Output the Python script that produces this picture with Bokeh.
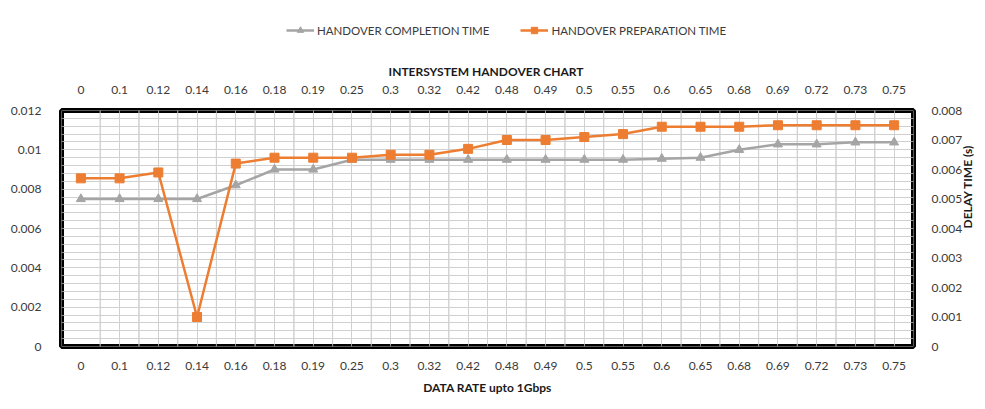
import math
from bokeh.plotting import figure
from bokeh.layouts import column
from bokeh.models import (FactorRange, Range1d, LinearAxis, CategoricalAxis, FixedTicker,
                          SingleIntervalTicker, CustomJSTickFormatter, Legend, LegendItem,
                          Title, BoxAnnotation)
from bokeh.embed import file_html
from bokeh.resources import INLINE

# ---------------- data ----------------
data_rate = ["0", "0.1", "0.12", "0.14", "0.16", "0.18", "0.19", "0.25", "0.3", "0.32", "0.42",
             "0.48", "0.49", "0.5", "0.55", "0.6", "0.65", "0.68", "0.69", "0.72", "0.73", "0.75"]
# left axis (s)
completion_time = [0.0075, 0.0075, 0.0075, 0.0075, 0.0082, 0.0090, 0.0090, 0.0095, 0.0095, 0.0095,
                   0.0095, 0.0095, 0.0095, 0.0095, 0.0095, 0.00955, 0.0096, 0.0100, 0.01028,
                   0.01028, 0.01038, 0.01038]
# right axis (s)
preparation_time = [0.0057, 0.0057, 0.0059, 0.0010, 0.0062, 0.0064, 0.0064, 0.0064, 0.0065, 0.0065,
                    0.0067, 0.0070, 0.0070, 0.0071, 0.0072, 0.00745, 0.00745, 0.00745, 0.0075,
                    0.0075, 0.0075, 0.0075]
left_ticks = [0, 0.002, 0.004, 0.006, 0.008, 0.010, 0.012]
right_ticks = [0, 0.001, 0.002, 0.003, 0.004, 0.005, 0.006, 0.007, 0.008]
series_names = ["HANDOVER COMPLETION TIME", "HANDOVER PREPARATION TIME"]

FONT = "Lato"
GRID = "#d0d0d0"
TXT = "#3a3a3a"
GRAY = "#a5a5a5"
ORANGE = "#ed7d31"

# ---------------- legend strip ----------------
# the series are drawn here too but fall outside this strip's visible range;
# only the legend entries show.
lg = figure(width=985, height=50, output_backend="svg", toolbar_location=None,
            x_axis_type=None, y_axis_type=None, min_border=0,
            x_range=FactorRange(*data_rate), y_range=Range1d(1, 2))
lg.outline_line_color = None
lg.grid.visible = False
lr1 = lg.line(data_rate, completion_time, line_color=GRAY, line_width=2.5)
lm1 = lg.scatter(data_rate, completion_time, marker="triangle", size=9,
                 fill_color=GRAY, line_color=GRAY)
lr2 = lg.line(data_rate, preparation_time, line_color=ORANGE, line_width=2.5)
lm2 = lg.scatter(data_rate, preparation_time, marker="square", size=9,
                 fill_color=ORANGE, line_color=ORANGE)
legend = Legend(items=[LegendItem(label=series_names[0], renderers=[lr1, lm1]),
                       LegendItem(label=series_names[1], renderers=[lr2, lm2])],
                orientation="horizontal", location=(225, 12),
                border_line_color=None, background_fill_alpha=0,
                padding=0, margin=0, spacing=31, glyph_width=28, glyph_height=16,
                label_height=16, label_standoff=3,
                label_text_font=FONT, label_text_font_size="11.5px", label_text_color=TXT)
lg.add_layout(legend)

# ---------------- main chart ----------------
p = figure(width=985, height=359,
           x_range=FactorRange(*data_rate), y_range=Range1d(0, 0.012),
           output_backend="svg", toolbar_location=None,
           min_border_left=61, min_border_right=68, min_border_top=60, min_border_bottom=63)
p.title = None
p.extra_y_ranges = {"right": Range1d(0, 0.008)}

fmt = "return String(parseFloat(tick.toFixed(4)));"

p.outline_line_color = "black"
p.outline_line_width = 5
p.background_fill_color = "white"

p.xgrid.grid_line_color = GRID
p.ygrid.ticker = SingleIntervalTicker(interval=0.0004)
p.ygrid.grid_line_color = GRID

# category boundary lines (horizontal edges fall outside the frame and are clipped)
p.vbar(x=data_rate, bottom=-0.001, top=0.013, width=1.0, fill_alpha=0,
       line_color=GRID, line_width=1)

def style_axis(ax):
    ax.axis_line_color = None
    ax.major_tick_line_color = None
    ax.minor_tick_line_color = None
    ax.major_label_text_font = FONT
    ax.major_label_text_font_size = "12px"
    ax.major_label_text_color = TXT
    ax.axis_label_text_font = FONT
    ax.axis_label_text_font_size = "12px"
    ax.axis_label_text_font_style = "bold"
    ax.axis_label_text_color = "#1a1a1a"

xb = p.xaxis[0]
style_axis(xb)
xb.axis_label = "DATA RATE upto 1Gbps"
xb.major_label_standoff = 9
xb.axis_label_standoff = 7

yl = p.yaxis[0]
style_axis(yl)
yl.ticker = FixedTicker(ticks=left_ticks)
yl.formatter = CustomJSTickFormatter(code=fmt)
yl.major_label_standoff = 14

yr = LinearAxis(y_range_name="right", ticker=FixedTicker(ticks=right_ticks),
                formatter=CustomJSTickFormatter(code=fmt), axis_label="DELAY TIME  (s)")
style_axis(yr)
yr.major_label_standoff = 12
yr.axis_label_standoff = 2
yr.axis_label_orientation = math.pi / 2
p.add_layout(yr, "right")

xt = CategoricalAxis()
style_axis(xt)
xt.major_label_standoff = 11
p.add_layout(xt, "above")

title = Title(text="INTERSYSTEM HANDOVER  CHART", align="center", text_font=FONT,
              text_font_size="12px", text_font_style="bold", text_color="#1a1a1a", standoff=7)
p.add_layout(title, "above")

p.line(data_rate, completion_time, line_color=GRAY, line_width=2.5)
p.scatter(data_rate, completion_time, marker="triangle", size=9, fill_color=GRAY, line_color=GRAY)
p.line(data_rate, preparation_time, y_range_name="right", line_color=ORANGE, line_width=2.5)
p.scatter(data_rate, preparation_time, y_range_name="right", marker="square", size=9,
          fill_color=ORANGE, line_color=ORANGE)

p.add_layout(BoxAnnotation(fill_alpha=0, line_color="black", line_width=5, level="overlay"))

layout = column(lg, p, spacing=0)
open("out.html", "w").write(file_html(layout, INLINE))
